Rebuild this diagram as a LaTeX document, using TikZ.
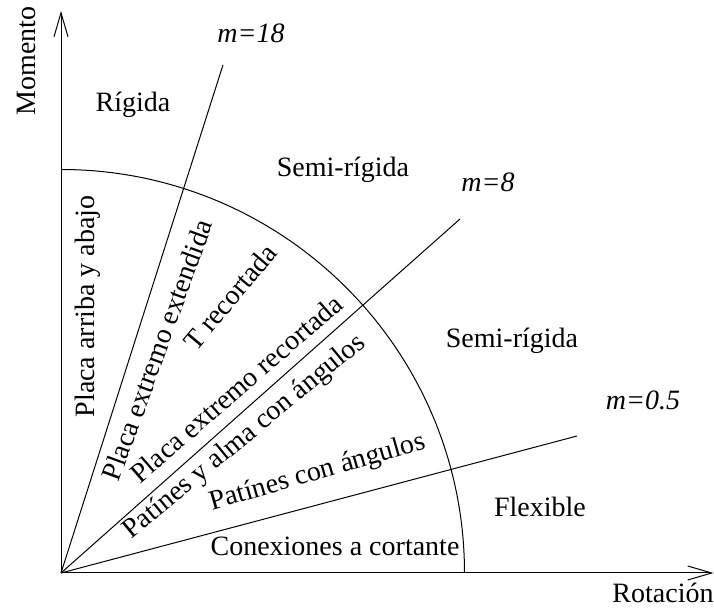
\documentclass[tikz,border=0pt]{standalone}
\usepackage{fontspec}
\setmainfont{Liberation Serif}
\usetikzlibrary{arrows.meta}
\begin{document}
\begin{tikzpicture}[x=0.5pt,y=-0.5pt,
  every node/.style={inner sep=0pt,outer sep=0pt,font=\fontsize{14}{16}\selectfont},
  ln/.style={line width=0.5pt},
  ax/.style={line width=0.5pt,-{Straight Barb[length=12pt,width=7pt,line width=0.5pt]}},
  lbl/.style={anchor=base},
  rlbl/.style={anchor=center}]
\useasboundingbox (0,0) rectangle (714,609);
% origin and axis ends
\coordinate (O) at (61,573);
\coordinate (ytop) at (61,11);
\coordinate (xend) at (713.5,573);
\draw[ax] (O) -- (ytop);
\draw[ax] (O) -- (xend);
% lines of constant stiffness
\coordinate (m18) at (223,65);
\coordinate (m8) at (460,219);
\coordinate (m05) at (577,436);
\draw[ln] (O) -- (m18);
\draw[ln] (O) -- (m8);
\draw[ln] (O) -- (m05);
% strength arc
\coordinate (arcstart) at (464.5,573);
\draw[ln] (arcstart) arc[start angle=0,end angle=-90,radius=403.5];
% axis labels
\node[rotate=90,anchor=base] (mom) at (35,61) {Momento};
\node[lbl] (rot) at (663,603) {Rotación};
% slope labels
\node[lbl] (t18) at (251,43) {\textit{m=18}};
\node[lbl] (t8) at (488,192) {\textit{m=8}};
\node[lbl] (t05) at (643,410) {\textit{m=0.5}};
% zone labels
\node[lbl] (rig) at (133,112) {Rígida};
\node[lbl] (semi1) at (343,177) {Semi-rígida};
\node[lbl] (semi2) at (512,348) {Semi-rígida};
\node[lbl] (flex) at (540,517) {Flexible};
\node[lbl] (cort) at (335,556) {Conexiones a cortante};
% connection types
\node[rotate=90,anchor=base] (pab) at (95,306.5) {Placa arriba y abajo};
\node[rotate=70,rlbl] (pee) at (157,350) {Placa extremo extendida};
\node[rotate=50,rlbl] (tre) at (230,297) {T recortada};
\node[rotate=41,rlbl] (per) at (236,388.5) {Placa extremo recortada};
\node[rotate=39.5,rlbl] (pya) at (245,437) {Patínes y alma con ángulos};
\node[rotate=16,rlbl] (pca) at (318,473) {Patínes con ángulos};
\end{tikzpicture}
\end{document}
